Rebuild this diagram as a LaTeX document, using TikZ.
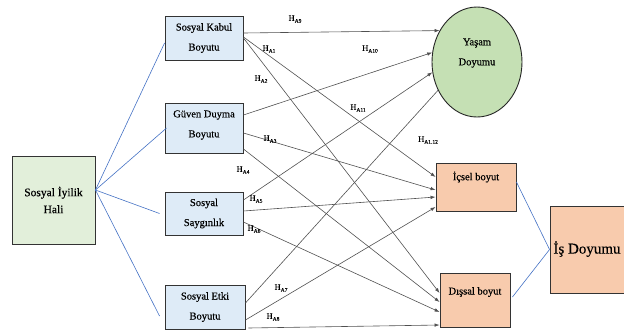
\documentclass[tikz,border=0pt]{standalone}
\usepackage{fontspec}
\setmainfont{Liberation Serif}[FakeBold=0.4]
\newfontfamily\isfont{Liberation Serif}[FakeBold=0.2]
\usetikzlibrary{arrows.meta,shapes.geometric}
\definecolor{bluebox}{RGB}{222,235,247}
\definecolor{greenbox}{RGB}{226,239,218}
\definecolor{greenell}{RGB}{197,224,180}
\definecolor{orangebox}{RGB}{248,203,173}
\definecolor{blueline}{RGB}{68,114,196}
\definecolor{arrowgrey}{RGB}{80,80,80}
\tikzset{
  box/.style={draw=black!80, line width=0.9pt, inner sep=0pt, align=center},
  bbox/.style={box, fill=bluebox, font=\fontsize{10.5}{20}\selectfont},
  txt/.style={inner sep=0pt, align=center, font=\fontsize{10.5}{17}\selectfont},
  link/.style={draw=blueline, line width=0.6pt},
  hpath/.style={draw=arrowgrey, line width=0.6pt, -{Latex[length=5pt,width=3.5pt]}},
  plainpath/.style={draw=arrowgrey, line width=0.6pt},
  hlab/.style={inner sep=0pt, font=\fontsize{8.5}{9}\selectfont}
}
\newcommand{\hyp}[1]{H\raisebox{-1.8pt}{\fontsize{5.5}{6}\selectfont #1}}
\begin{document}
\begin{tikzpicture}[x=1pt,y=-1pt]
\useasboundingbox (0,0) rectangle (624,333);
% boxes
\node[bbox, minimum width=78pt, minimum height=44pt] (kabul) at (204,38) {Sosyal Kabul\\Boyutu};
\node[bbox, minimum width=78pt, minimum height=50pt] (guven) at (204,128) {};
\node[txt, font=\fontsize{10.5}{20}\selectfont] (guventxt) at (204,125) {Güven Duyma\\Boyutu};
\node[bbox, minimum width=78pt, minimum height=43pt] (saygi) at (204,213.5) {Sosyal\\Saygınlık};
\node[bbox, minimum width=80pt, minimum height=44pt] (etki) at (205,307) {Sosyal Etki\\Boyutu};
\node[box, fill=greenbox, minimum width=83pt, minimum height=88pt] (iyilik) at (53.5,200) {};
\node[txt, font=\fontsize{11.5}{17}\selectfont] (iyiliktxt) at (53.5,200) {Sosyal İyilik\\Hali};
\node[ellipse, draw=black!85, line width=0.9pt, fill=greenell, minimum width=90pt, minimum height=110pt, inner sep=0pt] (yasam) at (477,62) {};
\node[txt, font=\fontsize{10.5}{20}\selectfont] (yasamtxt) at (477,53) {Yaşam\\Doyumu};
\node[box, fill=orangebox, minimum width=80pt, minimum height=48pt] (icsel) at (476,187) {};
\node[txt] (icseltxt) at (476,177) {İçsel boyut};
\node[box, fill=orangebox, minimum width=70pt, minimum height=54pt] (dissal) at (475,300) {};
\node[txt] (dissaltxt) at (475,292) {Dışsal boyut};
\node[box, fill=orangebox, minimum width=78pt, minimum height=87pt] (isd) at (589,249.5) {};
\node[inner sep=0pt, font=\isfont\fontsize{15}{17}\selectfont] (istxt) at (587,249) {İş Doyumu};
% blue links
\draw[link] ([yshift=10pt]iyilik.east) -- ([yshift=-5pt]kabul.west);
\draw[link] ([yshift=10pt]iyilik.east) -- ([xshift=2pt]guven.west);
\draw[link] ([yshift=10pt]iyilik.east) -- ([xshift=-5pt]saygi.west);
\draw[link] ([yshift=10pt]iyilik.east) -- ([xshift=-5pt,yshift=-9pt]etki.west);
\draw[link] (isd.west) -- ([yshift=5pt]icsel.east);
\draw[link] (isd.west) -- ([xshift=2pt,yshift=3pt]dissal.east);
% hypothesis paths
\draw[hpath] ([yshift=5pt]kabul.east) -- (yasam.140);
\draw[hpath] ([yshift=1pt]kabul.east) -- ([yshift=10pt]icsel.west);
\draw[hpath] (kabul.east) -- ([yshift=7pt]dissal.west);
\draw[hpath] ([yshift=13pt]guven.east) -- (yasam.168);
\draw[hpath] ([yshift=-5pt]guven.east) -- ([yshift=-3pt]icsel.west);
\draw[hpath] ([yshift=-21pt]guven.east) -- ([yshift=-2pt]dissal.west);
\draw[hpath] ([yshift=13.5pt]saygi.east) -- (yasam.193);
\draw[hpath] ([yshift=2.5pt]saygi.east) -- ([yshift=-10pt]icsel.west);
\draw[hpath] ([yshift=-8.5pt]saygi.east) -- ([yshift=-12pt]dissal.west);
\draw[plainpath] ([yshift=4pt]etki.east) -- (yasam.216);
\draw[hpath] ([yshift=-13pt]etki.east) -- ([yshift=-20pt]icsel.west);
\draw[hpath] ([xshift=3pt,yshift=-21pt]etki.east) -- ([yshift=-25pt]dissal.west);
% labels
\node[hlab] (l9) at (295,19) {\hyp{A9}};
\node[hlab] (l1) at (269,49) {\hyp{A1}};
\node[hlab] (l10) at (370,49) {\hyp{A10}};
\node[hlab] (l2) at (261,79) {\hyp{A2}};
\node[hlab] (l11) at (358,108) {\hyp{A11}};
\node[hlab] (l3) at (270,139) {\hyp{A3}};
\node[hlab] (l12) at (428,140) {\hyp{A1.12}};
\node[hlab] (l4) at (243,170) {\hyp{A4}};
\node[hlab] (l5) at (256,199) {\hyp{A5}};
\node[hlab] (l6) at (254,229) {\hyp{A6}};
\node[hlab] (l7) at (281,288) {\hyp{A7}};
\node[hlab] (l8) at (273,317) {\hyp{A8}};
\end{tikzpicture}
\end{document}
